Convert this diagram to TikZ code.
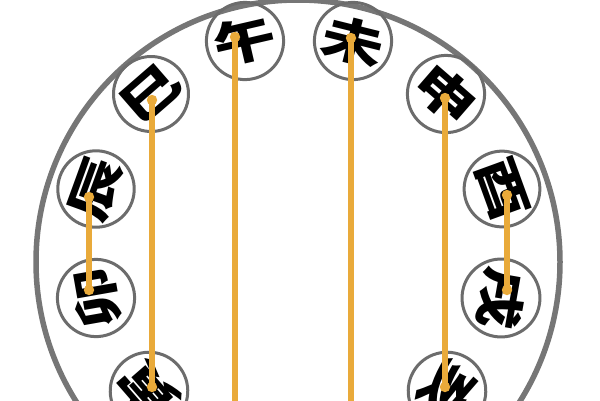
\documentclass[tikz,border=0pt]{standalone}
\usepackage{fontspec}
\usepackage{graphicx}
\usepackage{tikz}
\usetikzlibrary{arrows, arrows.meta}
\newfontfamily\cjk{Noto Sans CJK SC}
\definecolor{ringgray}{RGB}{118,118,118}
\definecolor{cupgray}{RGB}{108,108,108}
\definecolor{pairgold}{RGB}{233,170,58}
\tikzset{
  branch/.style={circle, draw=cupgray, line width=3pt, minimum size=75pt, inner sep=0pt,
    font=\cjk\bfseries\fontsize{48}{48}\selectfont},
  pairline/.style={draw=pairgold, line width=5.5pt},
  bothdots/.style={{Circle[length=10pt]}-{Circle[length=10pt]}},
  topdot/.style={{Circle[length=10pt]}-}
}
\newcommand{\wide}[1]{\scalebox{1.3}[1]{#1}}

\begin{document}
\begin{tikzpicture}[x=1pt, y=-1pt]
		\useasboundingbox (0,0) rectangle (600,400);
		\draw [ringgray, line width=5.5pt] (298,262) circle [radius=262];
		% top pair
		\node [branch, rotate=13] (wu) at (245,41) {\wide{午}};
		\node [branch, rotate=-14] (wei) at (353,41) {\wide{未}};
		% left side
		\node [branch, rotate=41] (si) at (151,94) {\wide{巳}};
		\node [branch, rotate=70] (chen) at (96,189) {\wide{辰}};
		\node [branch, rotate=100] (mao) at (96,298) {\wide{卯}};
		\node [branch, rotate=131] (yin) at (149,391) {\wide{寅}};
		% right side
		\node [branch, rotate=-41] (shen) at (446,94) {\wide{申}};
		\node [branch, rotate=-70] (you) at (502,189) {\wide{酉}};
		\node [branch, rotate=-100] (xu) at (501,298) {\wide{戌}};
		\node [branch, rotate=-131] (hai) at (447,391) {\wide{亥}};
		\coordinate (wuend) at (235,420);
		\coordinate (weiend) at (351,420);
		% pairs
		\draw [pairline, topdot] ([shift={(-10,-9)}]wu.center) -- (wuend);
		\draw [pairline, topdot] ([shift={(-2,-8)}]wei.center) -- (weiend);
		\draw [pairline, bothdots] ([shift={(1,1)}]si.center) -- ([shift={(3,1)}]yin.center);
		\draw [pairline, bothdots] ([shift={(-7,3)}]chen.center) -- ([shift={(-7,-3)}]mao.center);
		\draw [pairline, bothdots] ([shift={(-1,-1)}]shen.center) -- ([shift={(-2,1)}]hai.center);
		\draw [pairline, bothdots] ([shift={(5,1)}]you.center) -- ([shift={(6,-3)}]xu.center);
\end{tikzpicture}
\end{document}
